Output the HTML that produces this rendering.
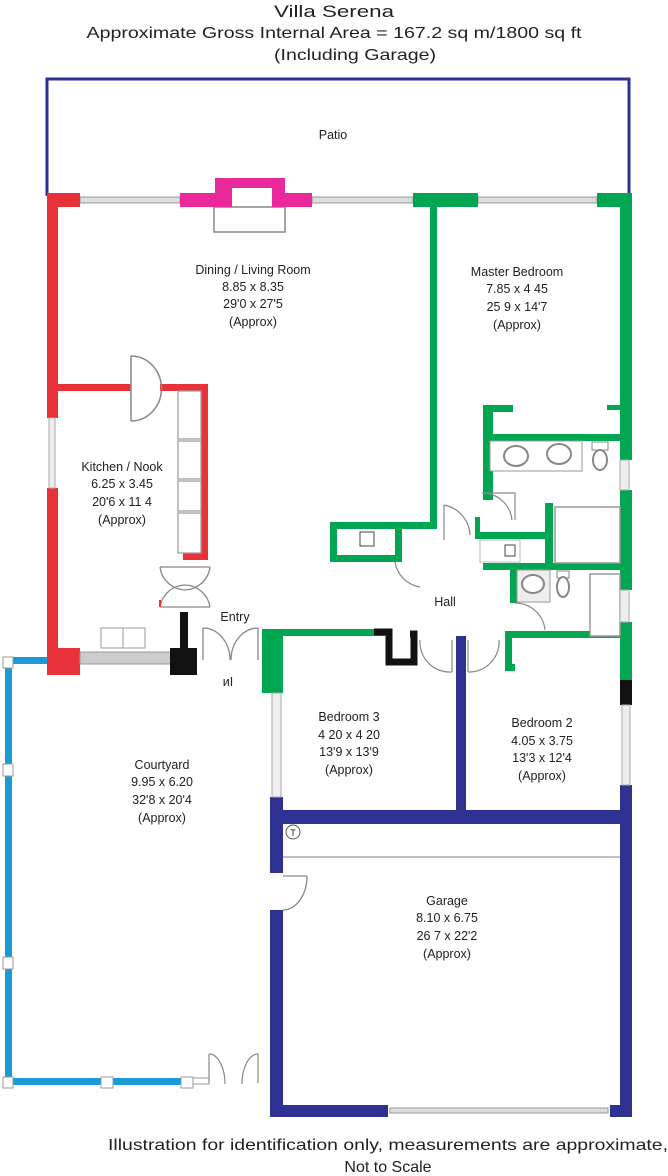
<!DOCTYPE html>
<html><head><meta charset="utf-8"><style>
html,body{margin:0;padding:0;background:#fff;}
svg{display:block;}
text{font-family:"Liberation Sans",sans-serif;fill:#222;}
</style></head><body>
<svg width="668" height="1176" viewBox="0 0 668 1176" xmlns="http://www.w3.org/2000/svg">
<!-- titles -->
<text x="334" y="17" font-size="17" text-anchor="middle" textLength="120" lengthAdjust="spacingAndGlyphs">Villa Serena</text>
<text x="334" y="38" font-size="16" text-anchor="middle" textLength="495" lengthAdjust="spacingAndGlyphs">Approximate Gross Internal Area = 167.2 sq m/1800 sq ft</text>
<text x="355" y="60" font-size="16" text-anchor="middle" textLength="162" lengthAdjust="spacingAndGlyphs">(Including Garage)</text>

<!-- patio -->
<path d="M47,196 V79 H629 V196" fill="none" stroke="#2e3192" stroke-width="3"/>
<text x="333" y="139" font-size="12.5" text-anchor="middle">Patio</text>

<!-- top wall windows -->
<rect x="80" y="197" width="100" height="6" fill="#ddd" stroke="#999" stroke-width="1"/>
<rect x="312" y="197" width="101" height="6" fill="#ddd" stroke="#999" stroke-width="1"/>
<rect x="478" y="197" width="119" height="6" fill="#ddd" stroke="#999" stroke-width="1"/>
<!-- fireplace -->
<rect x="214" y="207" width="71" height="25" fill="#fff" stroke="#888" stroke-width="1.5"/>
<path d="M180,193 H215 V178 H285 V193 H312 V207 H272 V188 H232 V207 H180 Z" fill="#e9299a"/>

<!-- red walls -->
<rect x="47" y="193" width="33" height="14" fill="#e8323a"/>
<rect x="47" y="193" width="11" height="482" fill="#e8323a"/>
<rect x="47" y="648" width="33" height="27" fill="#e8323a"/>
<rect x="47" y="384" width="84" height="7" fill="#e8323a"/>
<rect x="160" y="384" width="48" height="7" fill="#e8323a"/>
<rect x="201" y="384" width="7" height="176" fill="#e8323a"/>
<rect x="183" y="553" width="25" height="7" fill="#e8323a"/>
<rect x="47" y="418" width="11" height="70" fill="#fff"/>
<rect x="49" y="418" width="6" height="70" fill="#eee" stroke="#aaa"/>
<!-- kitchen cabinets -->
<g fill="#fff" stroke="#999" stroke-width="1.2">
<rect x="178" y="391" width="23" height="48"/><rect x="178" y="441" width="23" height="38"/>
<rect x="178" y="481" width="23" height="30"/><rect x="178" y="513" width="23" height="40"/>
</g>
<!-- kitchen door -->
<path d="M131,356 V421 M131,356 A30,32 0 0 1 131,421" fill="none" stroke="#888" stroke-width="1.5"/>
<!-- double door kitchen bottom -->
<path d="M160,567 H210 M160,567 A26,26 0 0 0 185,590 A26,26 0 0 0 210,567 M160,607 H210 M160,607 A26,26 0 0 1 185,585 A26,26 0 0 1 210,607" fill="none" stroke="#888" stroke-width="1.3"/>
<path d="M160,607 V600" stroke="#e8323a" stroke-width="2"/>
<!-- kitchen bottom -->
<rect x="80" y="652" width="92" height="12" fill="#ccc" stroke="#999"/>
<rect x="101" y="628" width="44" height="20" fill="#fff" stroke="#999"/>
<line x1="123" y1="628" x2="123" y2="648" stroke="#999"/>
<rect x="170" y="648" width="27" height="27" fill="#111"/>
<rect x="180" y="612" width="8" height="40" fill="#111"/>
<!-- entry doors -->
<path d="M203,628 V660 M203,628 A27,32 0 0 1 230,660 M258,628 V660 M258,628 A27,32 0 0 0 231,660" fill="none" stroke="#888" stroke-width="1.3"/>
<text x="235" y="621" font-size="12.5" text-anchor="middle">Entry</text>
<text x="228" y="686" font-size="12.5" text-anchor="middle">ᴎI</text>

<!-- green walls -->
<g fill="#00a651">
<rect x="413" y="193" width="65" height="14"/>
<rect x="597" y="193" width="35" height="14"/>
<rect x="620" y="193" width="12" height="267"/>
<rect x="620" y="490" width="12" height="100"/>
<rect x="620" y="622" width="12" height="58"/>
<rect x="430" y="207" width="7" height="322"/>
<rect x="330" y="522" width="65" height="7"/>
<rect x="330" y="522" width="7" height="40"/>
<rect x="330" y="555" width="65" height="7"/>
<rect x="395" y="522" width="42" height="7"/>
<rect x="395" y="522" width="7" height="40"/>
<rect x="483" y="405" width="10" height="95"/>
<rect x="483" y="405" width="30" height="7"/>
<rect x="607" y="405" width="13" height="5"/>
<rect x="488" y="434" width="132" height="7"/>
<rect x="475" y="532" width="78" height="7"/>
<rect x="475" y="517" width="5" height="22"/>
<rect x="545" y="503" width="8" height="66"/>
<rect x="483" y="563" width="137" height="7"/>
<rect x="510" y="563" width="7" height="40"/>
<rect x="505" y="631" width="7" height="39"/>
<rect x="505" y="631" width="115" height="7"/>
<rect x="505" y="664" width="10" height="7"/>
<rect x="270" y="629" width="115" height="7"/>
<rect x="262" y="629" width="21" height="64"/>
</g>
<!-- master bath fixtures -->
<rect x="490" y="441" width="92" height="30" fill="#fff" stroke="#999"/>
<ellipse cx="516" cy="456" rx="12" ry="10" fill="#fff" stroke="#888" stroke-width="2"/>
<ellipse cx="559" cy="454" rx="12" ry="10" fill="#fff" stroke="#888" stroke-width="2"/>
<rect x="592" y="442" width="16" height="8" fill="#fff" stroke="#888"/>
<ellipse cx="600" cy="460" rx="7" ry="10" fill="#fff" stroke="#888" stroke-width="2"/>
<rect x="555" y="507" width="65" height="56" fill="#fff" stroke="#999" stroke-width="1.5"/>
<rect x="620" y="460" width="9" height="30" fill="#eee" stroke="#aaa"/>
<path d="M482,493 H515 V520 M482,493 A30,30 0 0 1 512,520" fill="none" stroke="#888" stroke-width="1.2"/>
<path d="M444,505 V540 M444,505 A32,32 0 0 1 470,535" fill="none" stroke="#888" stroke-width="1.2"/>
<path d="M395,562 A30,30 0 0 0 420,587" fill="none" stroke="#888" stroke-width="1.2"/>
<rect x="480" y="540" width="40" height="22" fill="#fff" stroke="#bbb"/>
<rect x="505" y="545" width="10" height="11" fill="#fff" stroke="#444"/>
<rect x="360" y="532" width="14" height="14" fill="#fff" stroke="#444"/>
<!-- second bath -->
<rect x="517" y="570" width="33" height="32" fill="#eee" stroke="#999"/>
<ellipse cx="533" cy="584" rx="11" ry="9" fill="#fff" stroke="#888" stroke-width="2"/>
<rect x="557" y="571" width="12" height="7" fill="#fff" stroke="#888"/>
<ellipse cx="563" cy="587" rx="6" ry="10" fill="#fff" stroke="#888" stroke-width="2"/>
<rect x="590" y="574" width="30" height="62" fill="#fff" stroke="#999" stroke-width="1.5"/>
<rect x="620" y="590" width="9" height="32" fill="#eee" stroke="#aaa"/>
<path d="M515,603 A30,30 0 0 1 545,630" fill="none" stroke="#888" stroke-width="1.2"/>
<!-- black closet hall -->
<path d="M374,632 H389 V662 H414 V634 H410" fill="none" stroke="#111" stroke-width="7"/>
<!-- hall doors -->
<path d="M420,640 A30,30 0 0 0 452,672 M452,640 V672 M499,640 A30,30 0 0 1 468,672 M468,640 V672" fill="none" stroke="#888" stroke-width="1.2"/>
<text x="445" y="606" font-size="12.5" text-anchor="middle">Hall</text>

<!-- navy walls -->
<g fill="#2e3192">
<rect x="456" y="636" width="10" height="180"/>
<rect x="270" y="810" width="362" height="14"/>
<rect x="270" y="797" width="13" height="76"/>
<rect x="270" y="910" width="13" height="207"/>
<rect x="270" y="1105" width="118" height="12"/>
<rect x="610" y="1105" width="22" height="12"/>
<rect x="620" y="785" width="12" height="332"/>
</g>
<rect x="620" y="680" width="12" height="25" fill="#111"/>
<rect x="622" y="705" width="8" height="80" fill="#eee" stroke="#aaa"/>
<rect x="272" y="693" width="9" height="104" fill="#eee" stroke="#aaa"/>
<rect x="390" y="1108" width="218" height="5" fill="#ddd" stroke="#999"/>
<line x1="283" y1="857" x2="620" y2="857" stroke="#aaa" stroke-width="1.5"/>
<circle cx="293" cy="832" r="7" fill="#fff" stroke="#555"/>
<text x="293" y="836" font-size="9" text-anchor="middle">T</text>
<path d="M283,876 H307 M307,876 A24,34 0 0 1 283,910" fill="none" stroke="#888" stroke-width="1.3"/>

<!-- courtyard -->
<g fill="#1b9ad6">
<rect x="5" y="657" width="42" height="7"/>
<rect x="5" y="660" width="7" height="425"/>
<rect x="5" y="1078" width="185" height="7"/>
</g>
<g fill="#fff" stroke="#999">
<rect x="3" y="657" width="10" height="11"/><rect x="3" y="764" width="10" height="12"/>
<rect x="3" y="957" width="10" height="12"/><rect x="3" y="1077" width="10" height="11"/>
<rect x="101" y="1077" width="12" height="11"/><rect x="181" y="1077" width="12" height="11"/>
<rect x="193" y="1078" width="16" height="6"/>
</g>
<path d="M209,1083 V1054 M209,1054 A16,30 0 0 1 225,1084 M258,1083 V1054 M258,1054 A16,30 0 0 0 242,1084" fill="none" stroke="#888" stroke-width="1.2"/>

<!-- labels -->
<g font-size="12.5" text-anchor="middle">
<text x="253" y="274">Dining / Living Room</text><text x="253" y="291">8.85 x 8.35</text><text x="253" y="308">29'0 x 27'5</text><text x="253" y="326">(Approx)</text>
<text x="517" y="276">Master Bedroom</text><text x="517" y="293">7.85 x 4 45</text><text x="517" y="311">25 9 x 14'7</text><text x="517" y="329">(Approx)</text>
<text x="122" y="471">Kitchen / Nook</text><text x="122" y="488">6.25 x 3.45</text><text x="122" y="506">20'6 x 11 4</text><text x="122" y="524">(Approx)</text>
<text x="349" y="721">Bedroom 3</text><text x="349" y="739">4 20 x 4 20</text><text x="349" y="756">13'9 x 13'9</text><text x="349" y="774">(Approx)</text>
<text x="542" y="727">Bedroom 2</text><text x="542" y="745">4.05 x 3.75</text><text x="542" y="762">13'3 x 12'4</text><text x="542" y="780">(Approx)</text>
<text x="162" y="769">Courtyard</text><text x="162" y="786">9.95 x 6.20</text><text x="162" y="804">32'8 x 20'4</text><text x="162" y="822">(Approx)</text>
<text x="447" y="905">Garage</text><text x="447" y="922">8.10 x 6.75</text><text x="447" y="940">26 7 x 22'2</text><text x="447" y="958">(Approx)</text>
</g>
<text x="388" y="1150" font-size="16" text-anchor="middle" textLength="560" lengthAdjust="spacingAndGlyphs">Illustration for identification only, measurements are approximate,</text>
<text x="388" y="1172" font-size="16" text-anchor="middle">Not to Scale</text>
</svg>
</body></html>
